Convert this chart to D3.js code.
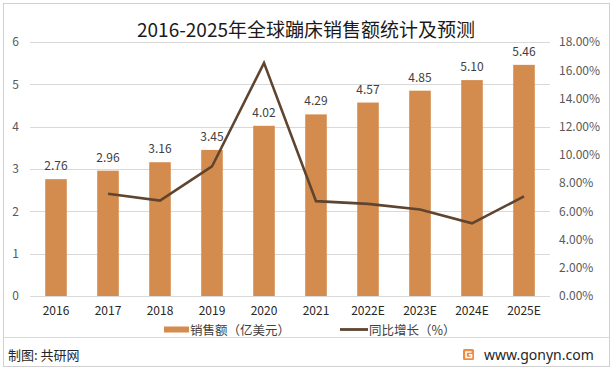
<!DOCTYPE html>
<html>
<head>
<meta charset="utf-8">
<script src="https://cdn.jsdelivr.net/npm/d3@7"></script>
<style>
  html, body { margin: 0; padding: 0; background: #fff; }
  svg { display: block; font-family: "Noto Sans CJK SC", "Noto Sans", sans-serif; }
</style>
</head>
<body>
<svg id="chart" width="613" height="370"></svg>
<script>
// data
const years = ['2016', '2017', '2018', '2019', '2020', '2021', '2022E', '2023E', '2024E', '2025E'];
const sales = [2.76, 2.96, 3.16, 3.45, 4.02, 4.29, 4.57, 4.85, 5.10, 5.46];
const growth = [null, 0.0725, 0.0676, 0.0918, 0.1652, 0.0672, 0.0653, 0.0613, 0.0515, 0.0706];
const leftTicks = [0, 1, 2, 3, 4, 5, 6];
const rightTicks = [0, 0.02, 0.04, 0.06, 0.08, 0.10, 0.12, 0.14, 0.16, 0.18];

const margin = {top: 42, bottom: 74, left: 30, right: 63};
const width = 613, height = 370;

const svg = d3.select('#chart');

// outer frame
svg.append('rect')
  .attr('x', 3.5).attr('y', 3.5)
  .attr('width', width - 7).attr('height', height - 7)
  .attr('fill', 'none').attr('stroke', '#d0d0d0');

const xScale = d3.scaleBand()
  .domain(years)
  .range([margin.left, width - margin.right])
  .paddingInner(0).paddingOuter(0);

const yScale = d3.scaleLinear().domain([0, 6]).range([height - margin.bottom, margin.top]);
const y2Scale = d3.scaleLinear().domain([0, 0.18]).range([height - margin.bottom, margin.top]);

// title
svg.append('text')
  .attr('x', 306).attr('y', 37)
  .attr('text-anchor', 'middle')
  .attr('font-size', '19px')
  .attr('fill', '#1a1a1a')
  .text('2016-2025年全球蹦床销售额统计及预测');

// grid lines
svg.append('g')
  .attr('id', 'grid')
  .selectAll('line')
  .data(leftTicks)
  .join('line')
  .attr('x1', margin.left).attr('x2', width - margin.right)
  .attr('y1', d => Math.round(yScale(d)) + 0.5)
  .attr('y2', d => Math.round(yScale(d)) + 0.5)
  .attr('stroke', '#d9d9d9');

// left axis
const leftAxis = svg.append('g')
  .attr('id', 'y-axis')
  .attr('transform', `translate(${margin.left - 11},0)`)
  .call(d3.axisLeft(yScale).tickValues(leftTicks).tickSize(0).tickPadding(0).tickFormat(d3.format('d')));
leftAxis.select('.domain').remove();
leftAxis.selectAll('text')
  .attr('font-size', '12px').attr('fill', '#595959')
  .attr('font-family', '"Noto Sans CJK SC", sans-serif');

// right axis
const rightAxis = svg.append('g')
  .attr('id', 'y2-axis')
  .attr('transform', `translate(${width - margin.right + 9},0)`)
  .call(d3.axisRight(y2Scale).tickValues(rightTicks).tickSize(0).tickPadding(0).tickFormat(d3.format('.2%')));
rightAxis.select('.domain').remove();
rightAxis.selectAll('text')
  .attr('font-size', '12px').attr('fill', '#595959')
  .attr('font-family', '"Noto Sans CJK SC", sans-serif');

// bottom axis
const bottomAxis = svg.append('g')
  .attr('id', 'x-axis')
  .attr('transform', `translate(0,${height - margin.bottom + 10})`)
  .call(d3.axisBottom(xScale).tickSize(0).tickPadding(0));
bottomAxis.select('.domain').remove();
bottomAxis.selectAll('text')
  .attr('font-size', '12px').attr('fill', '#262626').attr('dy', '0.71em')
  .attr('font-family', '"Noto Sans CJK SC", sans-serif');

// bars
const barW = xScale.bandwidth() * 0.415;
svg.append('g')
  .attr('id', 'bar')
  .attr('fill', '#d48b4e')
  .selectAll('rect')
  .data(years.map((y, i) => ({year: y, value: sales[i]})))
  .join('rect')
  .attr('x', d => xScale(d.year) + (xScale.bandwidth() - barW) / 2)
  .attr('y', d => yScale(d.value))
  .attr('width', barW)
  .attr('height', d => yScale(0) - yScale(d.value));

// bar labels
svg.append('g')
  .attr('id', 'labels')
  .selectAll('text')
  .data(years.map((y, i) => ({year: y, value: sales[i]})))
  .join('text')
  .attr('x', d => xScale(d.year) + xScale.bandwidth() / 2)
  .attr('y', d => yScale(d.value) - 9)
  .attr('text-anchor', 'middle')
  .attr('font-size', '12px')
  .attr('fill', '#404040')
  .text(d => d.value.toFixed(2));

// growth line
const lineData = years.map((y, i) => ({year: y, value: growth[i]})).filter(d => d.value !== null);
svg.append('path')
  .datum(lineData)
  .attr('fill', 'none')
  .attr('stroke', '#5f4530')
  .attr('stroke-width', 2.6)
  .attr('stroke-linejoin', 'miter')
  .attr('d', d3.line()
    .x(d => xScale(d.year) + xScale.bandwidth() / 2)
    .y(d => y2Scale(d.value)));

// legend
const legend = svg.append('g').attr('id', 'legend');
legend.append('rect')
  .attr('x', 164).attr('y', 326.5).attr('width', 25).attr('height', 6)
  .attr('fill', '#d48b4e');
legend.append('text')
  .attr('x', 190).attr('y', 335)
  .attr('font-size', '12.5px').attr('fill', '#404040')
  .text('销售额（亿美元）');
legend.append('line')
  .attr('x1', 340).attr('x2', 368).attr('y1', 329.5).attr('y2', 329.5)
  .attr('stroke', '#5f4530').attr('stroke-width', 2.8);
legend.append('text')
  .attr('x', 369).attr('y', 335)
  .attr('font-size', '12.5px').attr('fill', '#404040')
  .text('同比增长（%）');

// footer
svg.append('line')
  .attr('x1', 3.5).attr('x2', width - 3.5).attr('y1', 337.5).attr('y2', 337.5)
  .attr('stroke', '#d9d9d9');
svg.append('text')
  .attr('x', 8).attr('y', 360)
  .attr('font-size', '13px').attr('fill', '#262626')
  .text('制图: 共研网');
const logo = svg.append('g').attr('transform', 'translate(463,349)');
logo.append('rect')
  .attr('width', 11).attr('height', 11).attr('rx', 1.5)
  .attr('fill', '#f28a3c');
logo.append('path')
  .attr('d', 'M8.5,3 H3 V8.5 H8.5 V5.8 H5.8')
  .attr('fill', 'none').attr('stroke', '#fff').attr('stroke-width', 1.6);
svg.append('text')
  .attr('x', 484).attr('y', 360)
  .attr('font-size', '14px').attr('fill', '#262626')
  .attr('font-family', '"Noto Sans", sans-serif')
  .text('www.gonyn.com');
</script>
</body>
</html>
